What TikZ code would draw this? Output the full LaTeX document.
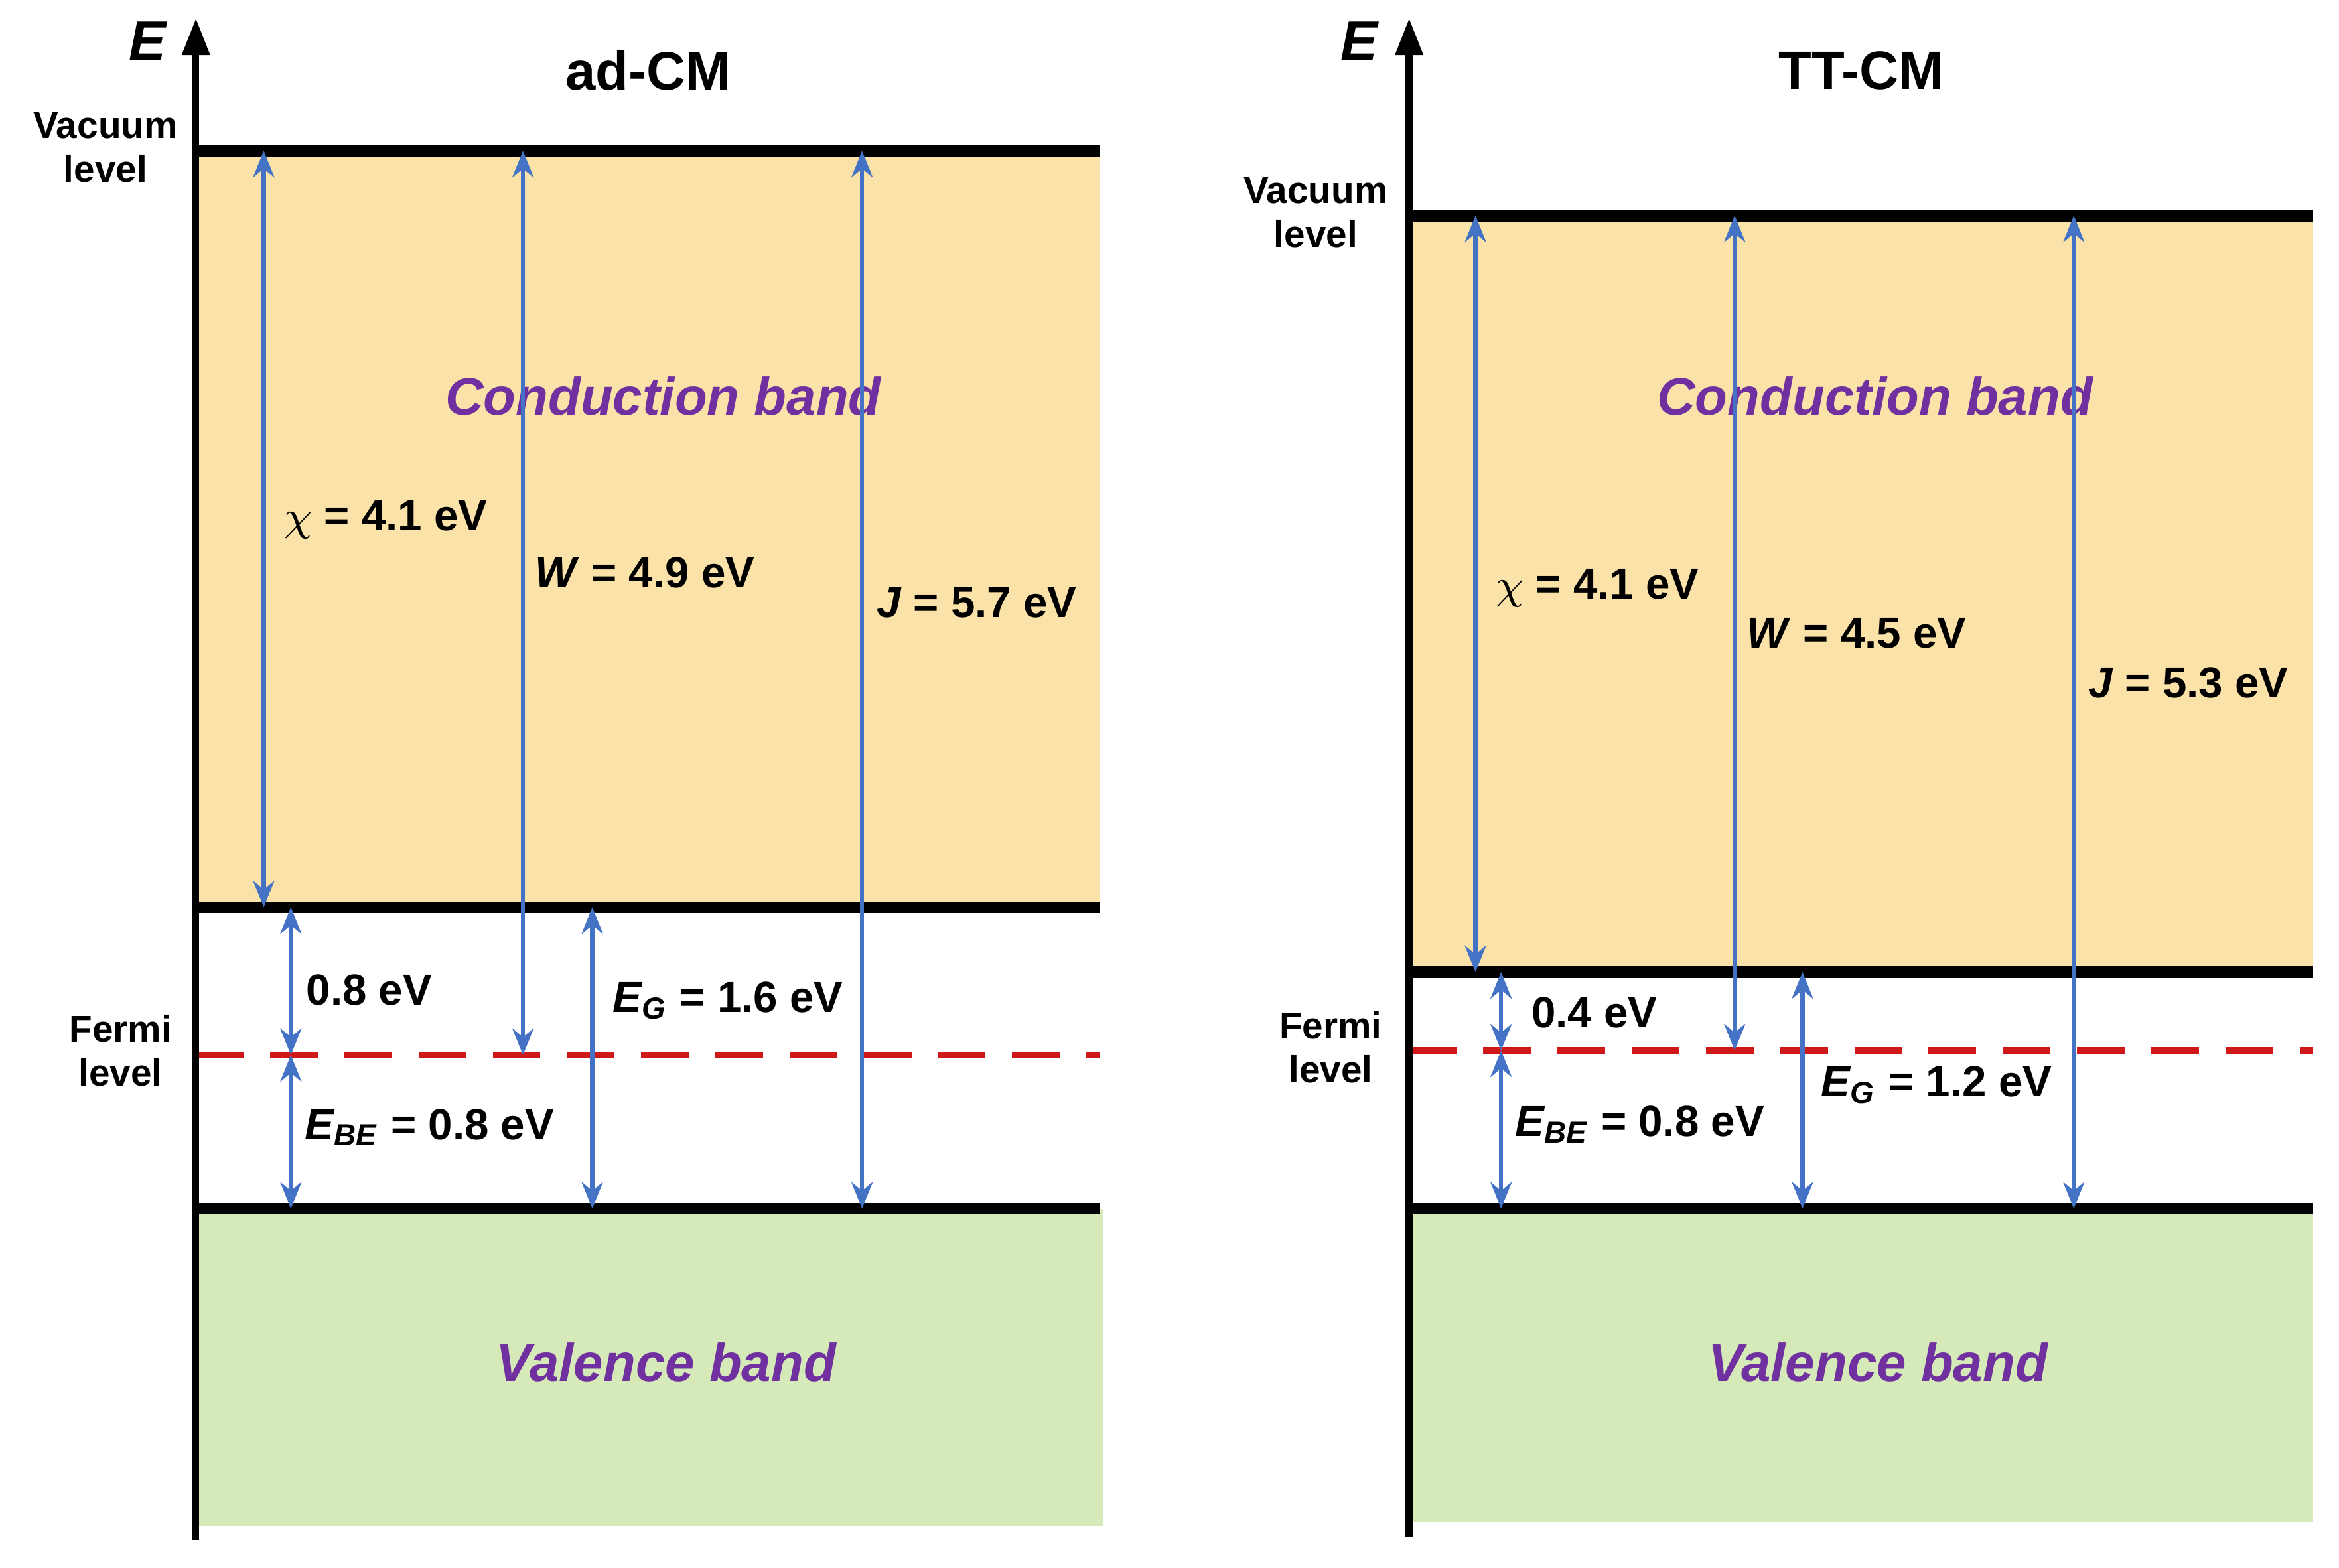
\documentclass[tikz,border=0pt]{standalone}
\usepackage{fontspec}
\setmainfont{Liberation Sans}
\usetikzlibrary{arrows.meta}
\definecolor{cb}{HTML}{FBE2A8}
\definecolor{vb}{HTML}{D5EAB8}
\definecolor{ar}{HTML}{4472C4}
\definecolor{pu}{HTML}{7030A0}
\definecolor{fr}{HTML}{D01818}
\begin{document}
\begin{tikzpicture}[x=0.01cm,y=-0.01cm,
  band/.style={line width=2.2pt},
  fermi/.style={fr,line width=1.3pt,dash pattern=on 9pt off 5pt},
  dim/.style={ar,line width=0.8pt,{Stealth[length=5pt,width=4pt]}-{Stealth[length=5pt,width=4pt]}},
  axis/.style={line width=1.3pt,-{Triangle[length=7pt,width=5pt]}},
  lab/.style={font=\bfseries\fontsize{8.2}{9.5}\selectfont},
  side/.style={font=\bfseries\fontsize{7.1}{8.3}\selectfont,align=center},
  big/.style={font=\bfseries\itshape\fontsize{10}{12}\selectfont,text=pu},
  ttl/.style={font=\bfseries\fontsize{10.2}{12}\selectfont}]
\useasboundingbox (0,0) rectangle (1552,1040);
% ---------- left panel ----------
\fill[cb] (130,100) rectangle (730,602);
\fill[vb] (130,802) rectangle (732,1012);
\draw[band] (130,100) -- (730,100);
\draw[band] (130,602) -- (730,602);
\draw[band] (130,802) -- (730,802);
\draw[fermi] (130,700) -- (730,700);
\coordinate (Lax0) at (130,1022); \coordinate (Lax1) at (130,12);
\draw[axis] (Lax0) -- (Lax1);
\node[font=\bfseries\itshape\fontsize{10.5}{12}\selectfont] (LE) at (98,27) {E};
\node[ttl] (Lt) at (430,47) {ad-CM};
\node[side] (Lvac) at (70,98) {Vacuum\\level};
\node[side] (Lfer) at (80,697) {Fermi\\level};
\node[big] (Lcb) at (440,263) {Conduction band};
\node[big] (Lvb) at (442,904) {Valence band};
\coordinate (La1) at (175,100); \coordinate (La2) at (175,602);
\coordinate (Lb1) at (347,100); \coordinate (Lb2) at (347,700);
\coordinate (Lc1) at (572,100); \coordinate (Lc2) at (572,802);
\coordinate (Ld1) at (193,602); \coordinate (Ld2) at (193,700);
\coordinate (Le1) at (193,700); \coordinate (Le2) at (193,802);
\coordinate (Lf1) at (393,602); \coordinate (Lf2) at (393,802);
\foreach \a in {a,b,c,d,e,f} \draw[dim] (L\a1) -- (L\a2);
\node[lab] (Lchi) at (256,345) {$\chi$ = 4.1 eV};
\node[lab] (LW) at (428,380) {\textit{W} = 4.9 eV};
\node[lab] (LJ) at (648,400) {\textit{J} = 5.7 eV};
\node[lab] (L08) at (245,657) {0.8 eV};
\node[lab] (LEG) at (483,664) {\textit{E\textsubscript{G}} = 1.6 eV};
\node[lab] (LEBE) at (285,748) {\textit{E\textsubscript{BE}} = 0.8 eV};
% ---------- right panel ----------
\fill[cb] (935,143) rectangle (1535,645);
\fill[vb] (935,802) rectangle (1535,1010);
\draw[band] (935,143) -- (1535,143);
\draw[band] (935,645) -- (1535,645);
\draw[band] (935,802) -- (1535,802);
\draw[fermi] (935,697) -- (1535,697);
\coordinate (Rax0) at (935,1020); \coordinate (Rax1) at (935,12);
\draw[axis] (Rax0) -- (Rax1);
\node[font=\bfseries\itshape\fontsize{10.5}{12}\selectfont] (RE) at (902,27) {E};
\node[ttl] (Rt) at (1235,47) {TT-CM};
\node[side] (Rvac) at (873,141) {Vacuum\\level};
\node[side] (Rfer) at (883,695) {Fermi\\level};
\node[big] (Rcb) at (1244,263) {Conduction band};
\node[big] (Rvb) at (1246,904) {Valence band};
\coordinate (Ra1) at (979,143); \coordinate (Ra2) at (979,645);
\coordinate (Rb1) at (1151,143); \coordinate (Rb2) at (1151,697);
\coordinate (Rc1) at (1376,143); \coordinate (Rc2) at (1376,802);
\coordinate (Rd1) at (996,645); \coordinate (Rd2) at (996,697);
\coordinate (Re1) at (996,697); \coordinate (Re2) at (996,802);
\coordinate (Rf1) at (1196,645); \coordinate (Rf2) at (1196,802);
\foreach \a in {a,b,c,d,e,f} \draw[dim] (R\a1) -- (R\a2);
\node[lab] (Rchi) at (1060,390) {$\chi$ = 4.1 eV};
\node[lab] (RW) at (1232,420) {\textit{W} = 4.5 eV};
\node[lab] (RJ) at (1452,453) {\textit{J} = 5.3 eV};
\node[lab] (R04) at (1058,672) {0.4 eV};
\node[lab] (REG) at (1285,720) {\textit{E\textsubscript{G}} = 1.2 eV};
\node[lab] (REBE) at (1088,746) {\textit{E\textsubscript{BE}} = 0.8 eV};
\end{tikzpicture}
\end{document}
